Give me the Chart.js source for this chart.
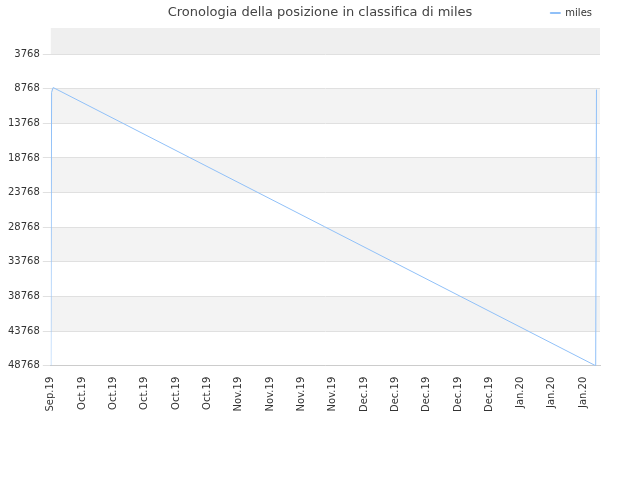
<!DOCTYPE html>
<html><head><script src="https://cdn.jsdelivr.net/npm/chart.js@4/dist/chart.umd.min.js"></script>
<style>body{margin:0;font-family:"DejaVu Sans",sans-serif}#w{position:relative;width:640px;height:480px}#t{position:absolute;top:4px;left:0;width:640px;text-align:center;font-size:13px;color:#444}</style></head>
<body><div id="w"><div id="t">Cronologia della posizione in classifica di miles</div><canvas id="c"></canvas></div>
<script>
Chart.defaults.font.family='"DejaVu Sans", sans-serif';
const xLabels=["Sep.19","Oct.19","Oct.19","Oct.19","Oct.19","Oct.19","Nov.19","Nov.19","Nov.19","Nov.19","Dec.19","Dec.19","Dec.19","Dec.19","Dec.19","Jan.20","Jan.20","Jan.20"];
const yTicks=[3768,8768,13768,18768,23768,28768,33768,38768,43768,48768];
const dayX=[0,0.2,0.6,139.2,139.4];
const rank=[48768,9300,8600,48768,8900];
const bands={id:'bands',beforeDraw(ch){const {ctx,chartArea:a,scales:{y}}=ch;const edges=[0,...yTicks];ctx.save();for(let i=0;i<edges.length-1;i++){if(i%2===0){const t=y.getPixelForValue(edges[i]),b=y.getPixelForValue(edges[i+1]);ctx.fillStyle=i===0?'#efefef':'#f3f3f3';ctx.fillRect(a.left,t,a.right-a.left,b-t);}}ctx.restore();}};
new Chart(document.getElementById('c'),{type:'line',
data:{datasets:[{label:'miles',data:dayX.map((x,i)=>({x,y:rank[i]})),borderColor:'#90c0f8',backgroundColor:'#90c0f8',borderWidth:1,pointRadius:0,tension:0}]},
options:{responsive:true,maintainAspectRatio:false,animation:false,
layout:{padding:{left:5,right:40,top:0,bottom:65}},
plugins:{legend:{position:'top',align:'end',labels:{boxWidth:10,boxHeight:1,color:'#333',font:{size:10},padding:8}}},
scales:{x:{type:'linear',min:0,max:140.3,afterBuildTicks(s){s.ticks=xLabels.map((_,i)=>({value:i*8}));},
ticks:{callback:(v)=>xLabels[v/8],maxRotation:90,minRotation:90,autoSkip:false,color:'#333',font:{size:10}},grid:{display:false},border:{color:'#ccc'}},
y:{reverse:true,min:0,max:48768,afterBuildTicks(s){s.ticks=yTicks.map(v=>({value:v}));},
ticks:{callback:(v)=>String(v),color:'#333',font:{size:10}},grid:{color:'#e0e0e0'},border:{display:false}}}},
plugins:[bands]});
</script></body></html>
